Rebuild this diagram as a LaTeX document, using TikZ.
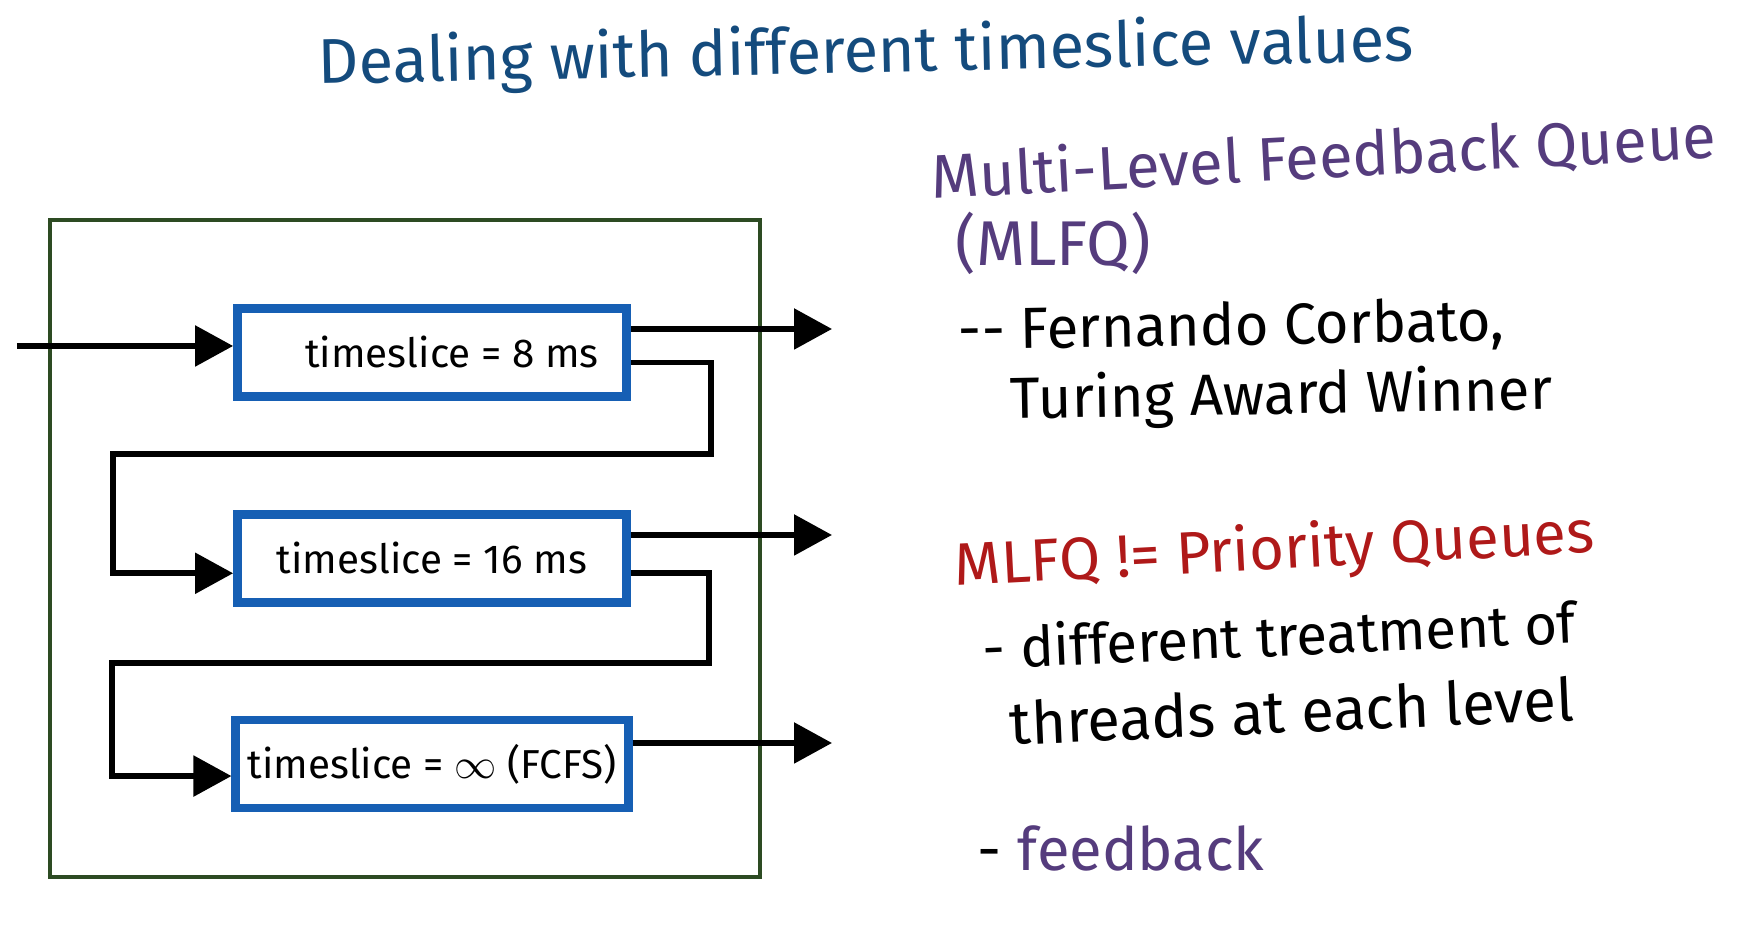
\documentclass[tikz,border=0pt]{standalone}
\usepackage{fontspec}
\setmainfont{Fira Sans}
\usetikzlibrary{arrows.meta,positioning}
\definecolor{titleblue}{RGB}{20,75,125}
\definecolor{boxblue}{RGB}{22,95,180}
\definecolor{framegreen}{RGB}{45,75,35}
\definecolor{notepurple}{RGB}{85,60,125}
\definecolor{notered}{RGB}{175,25,25}

\begin{document}
\begin{tikzpicture}[
  node distance=1.09cm,
  box/.style={draw=boxblue,line width=2.5pt,minimum width=3.89cm,minimum height=0.88cm,
    font=\fontsize{11.5}{14}\selectfont},
  arr/.style={-{Triangle[length=3.8mm,width=4mm]},line width=1.6pt},
  note/.style={anchor=base west,inner sep=0pt,font=\fontsize{16}{19}\selectfont}
]
\useasboundingbox (0,0) rectangle (17.51,9.39);
\draw[framegreen,line width=1pt] (0.50,0.62) rectangle (7.60,7.19);
\node[box] (q1) at (4.32,5.865) {\hspace*{4mm}timeslice = 8 ms};
\node[box,below=of q1] (q2) {timeslice = 16 ms};
\node[box,below=of q2] (q3) {timeslice = $\infty$ (FCFS)};
\coordinate (in) at (0.17,5.93);
\coordinate (o1) at (8.32,6.10);
\coordinate (o2) at (8.32,4.04);
\coordinate (o3) at (8.32,1.96);
\coordinate (r1) at (7.11,4.85);
\coordinate (l1) at (1.13,4.85);
\coordinate (r2) at (7.09,2.76);
\coordinate (l2) at (1.12,2.76);
\draw[arr] (in) -- (in -| q1.west);
\draw[arr] (o1 -| q1.east) -- (o1);
\draw[arr] (o2 -| q2.east) -- (o2);
\draw[arr] (o3 -| q3.east) -- (o3);
\draw[arr] ([yshift=-1mm]q1.east) -| (r1) -- (l1) |- ([yshift=-1.5mm]q2.west);
\draw[arr] ([yshift=-1.5mm]q2.east) -| (r2) -- (l2) |- ([yshift=-1.2mm]q3.west);
\node[note,titleblue,rotate=1.2,font=\fontsize{18}{21}\selectfont] (title) at (3.18,8.55) {Dealing with different timeslice values};
\node[note,notepurple,rotate=3,font=\fontsize{17.5}{21}\selectfont] (mlfq) at (9.32,7.40) {Multi-Level Feedback Queue};
\node[note,notepurple,font=\fontsize{18}{21}\selectfont] (abbr) at (9.55,6.73) {(MLFQ)};
\node[note,rotate=1,font=\fontsize{16.5}{20}\selectfont] (who) at (9.58,5.89) {-{}- Fernando Corbato,};
\node[note,rotate=1,font=\fontsize{16.5}{20}\selectfont] (award) at (10.10,5.20) {Turing Award Winner};
\node[note,notered,rotate=3,font=\fontsize{17}{20}\selectfont] (neq) at (9.55,3.53) {MLFQ != Priority Queues};
\node[note,rotate=2.5] (diff) at (9.83,2.70) {- different treatment of};
\node[note,rotate=2.5,font=\fontsize{17}{20}\selectfont] (lvl) at (10.10,1.94) {threads at each level};
\node[note,font=\fontsize{17}{20}\selectfont] (fb) at (9.77,0.68) {- \textcolor{notepurple}{feedback}};
\end{tikzpicture}
\end{document}
